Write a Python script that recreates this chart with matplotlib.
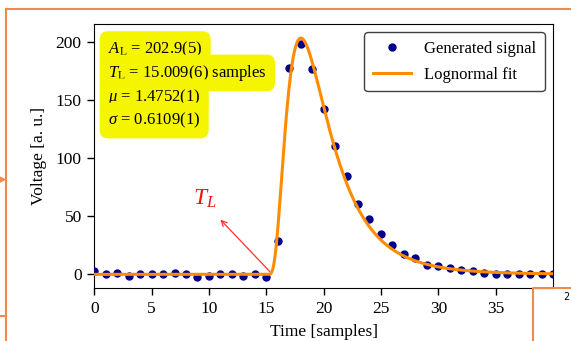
import numpy as np
import matplotlib
matplotlib.use("Agg")
import matplotlib.pyplot as plt
from matplotlib.lines import Line2D

plt.rcParams['font.family'] = ['Liberation Serif', 'DejaVu Serif']
plt.rcParams['mathtext.fontset'] = 'custom'
plt.rcParams['mathtext.rm'] = 'Liberation Serif'
plt.rcParams['mathtext.it'] = 'Liberation Serif:italic'
plt.rcParams['mathtext.bf'] = 'Liberation Serif:bold'

# ---- data ----
samples = list(range(0, 41))
signal = [3, 0, 1.5, -1.5, 0, 0, 0, 1.5, 0, -2.5,
          -1.5, 0, 0, -1.5, 0, -2.5, 28.6, 177, 197.5, 176,
          142, 110, 84.6, 60.5, 47.4, 34.6, 25.4, 17.4, 13.7, 8.2,
          7.1, 5.4, 3.7, 2.6, 1.1, 0, 0, 0, 0, 0.5,
          0]

# fit parameters shown on the chart
fit_A = 202.9
fit_T = 15.009
fit_mu = 1.4752
fit_sigma = 0.6109

x_ticks = [0, 5, 10, 15, 20, 25, 30, 35]
y_ticks = [0, 50, 100, 150, 200]

fit_lines = [r"$A_\mathrm{L}$ = 202.9(5)",
             r"$T_\mathrm{L}$ = 15.009(6) samples",
             r"$\mu$ = 1.4752(1)",
             r"$\sigma$ = 0.6109(1)"]

# ---- figure ----
fig = plt.figure(figsize=(5.71, 3.41), dpi=100)
ax = fig.add_axes([0.165, 0.1545, 0.8035, 0.775])

# lognormal fit, normalised so that its peak equals A
t = np.linspace(0, 40, 2000)
u = t - fit_T
fit = np.zeros_like(t)
m = u > 0
mode = np.exp(fit_mu - fit_sigma**2)
def _pdf(z):
    return np.exp(-(np.log(z) - fit_mu)**2 / (2 * fit_sigma**2)) / z
fit[m] = fit_A * _pdf(u[m]) / _pdf(mode)

ax.plot(samples, signal, 'o', color='#00008B', markersize=5, zorder=3,
        label='Generated signal', clip_on=True)
ax.plot(t, fit, '-', color='#FF8C00', lw=2.2, zorder=4, label='Lognormal fit')

ax.set_xlim(0, 40)
ax.set_ylim(-12, 215)
ax.set_xticks(x_ticks)
ax.set_yticks(y_ticks)
ax.tick_params(labelsize=12.5, length=5, width=1, direction='out', pad=4)
ax.set_xlabel('Time [samples]', fontsize=12.5, labelpad=5)
ax.set_ylabel('Voltage [a. u.]', fontsize=12.5, labelpad=6)

leg = ax.legend(loc='upper right', fontsize=12, frameon=True, fancybox=True,
                framealpha=1, edgecolor='0.25', handlelength=2.3,
                borderaxespad=0.5, labelspacing=0.6, borderpad=0.5)
leg.get_frame().set_linewidth(1.0)

# fit parameter text with yellow highlight
ys = [0.905, 0.815, 0.725, 0.635]
for s, yy in zip(fit_lines, ys):
    ax.text(0.03, yy, s, transform=ax.transAxes, fontsize=12, va='center',
            ha='left', zorder=5,
            bbox=dict(boxstyle='round,pad=0.5', fc='#F5F500', ec='none'))

# T_L annotation
ax.annotate('', xy=(11.0, 47), xytext=(15.3, 2.5),
            arrowprops=dict(arrowstyle='->', color='#FF3333', lw=0.9,
                            shrinkA=0, shrinkB=0))
ax.text(9.6, 65, r'$T_L$', color='#EE1111', fontsize=17, ha='center',
        va='center')

# slide frame decorations from the screenshot
orange = '#F08A4B'
fig.add_artist(Line2D([6/571, 1], [1-8.5/341, 1-8.5/341], color=orange, lw=1.5,
                      transform=fig.transFigure))
fig.add_artist(Line2D([6/571, 6/571], [1-8.5/341, 0], color=orange, lw=1.5,
                      transform=fig.transFigure))
fig.add_artist(Line2D([0, 6/571], [1-316/341, 1-316/341], color=orange, lw=1.5,
                      transform=fig.transFigure))
fig.add_artist(Line2D([533/571, 533/571, 1], [0, 1-287.5/341, 1-287.5/341],
                      color=orange, lw=1.5, transform=fig.transFigure))
fig.text(0, 1-180/341, '\u25B8', color=orange, fontsize=9, va='center',
         ha='left', family='DejaVu Sans')
fig.text(563/571, 1-297/341, '2', color='black', fontsize=7, va='center',
         ha='left', family='DejaVu Sans')

fig.savefig('out.png', dpi=100)
